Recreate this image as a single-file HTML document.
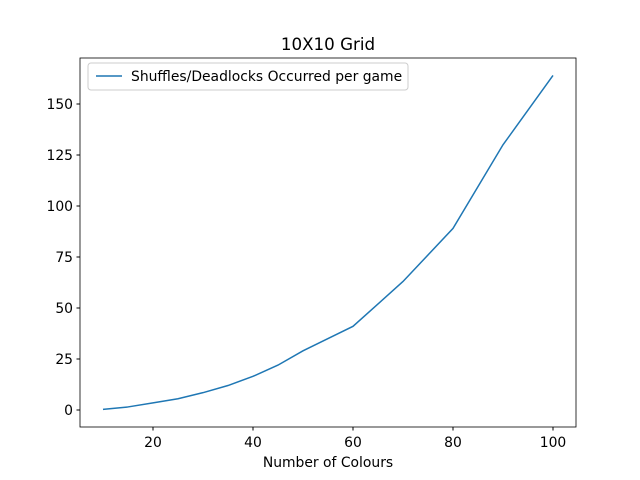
<!DOCTYPE html>
<html><head><meta charset="utf-8"><style>
body{margin:0;background:#fff}
svg{display:block;font-family:"DejaVu Sans","Liberation Sans",sans-serif}
</style></head><body>
<svg id="chart" width="640" height="480">
<rect width="640" height="480" fill="#fff"/>
<text x="328" y="50" font-size="16.7" text-anchor="middle">10X10 Grid</text>
<g id="plot"></g>
<rect x="80" y="58" width="496" height="369" fill="none" stroke="#000" stroke-width="0.8"/>
<text x="328" y="467" font-size="13.9" text-anchor="middle">Number of Colours</text>
<g>
<rect x="88" y="63" width="320" height="27" rx="3" fill="#fff" stroke="#ccc"/>
<line x1="96" y1="76" x2="122" y2="76" stroke="#1f77b4" stroke-width="1.5"/>
<text x="131" y="81" font-size="13.9">Shuffles/Deadlocks Occurred per game</text>
</g>
</svg>
<script>
const categories=[10,15,20,25,30,35,40,45,50,55,60,70,80,90,100];
const seriesValues=[0.3,1.5,3.5,5.5,8.5,12,16.5,22,29,35,41,63,89,130,164];
const xTicks=[20,40,60,80,100];
const yTicks=[0,25,50,75,100,125,150];
const xs=v=>103+(v-10)*5;
const ys=v=>410-v*2.04;
const g=document.getElementById('plot');
const NS='http://www.w3.org/2000/svg';
xTicks.forEach(t=>{
 const l=document.createElementNS(NS,'line');
 l.setAttribute('x1',xs(t));l.setAttribute('x2',xs(t));l.setAttribute('y1',427);l.setAttribute('y2',430.5);l.setAttribute('stroke','#000');
 
 
 g.appendChild(l);
 const tx=document.createElementNS(NS,'text');
 tx.setAttribute('x',xs(t));tx.setAttribute('y',447);tx.setAttribute('font-size','13.9');tx.setAttribute('text-anchor','middle');tx.textContent=t;
 
 
 g.appendChild(tx);
});
yTicks.forEach(t=>{
 const l=document.createElementNS(NS,'line');
 l.setAttribute('x1',76.5);l.setAttribute('x2',80);l.setAttribute('y1',ys(t));l.setAttribute('y2',ys(t));l.setAttribute('stroke','#000');
 
 
 g.appendChild(l);
 const tx=document.createElementNS(NS,'text');
 tx.setAttribute('x',73);tx.setAttribute('y',ys(t)+5);tx.setAttribute('font-size','13.9');tx.setAttribute('text-anchor','end');tx.textContent=t;
 
 
 g.appendChild(tx);
});
const p=document.createElementNS(NS,'polyline');
p.setAttribute('points',categories.map((c,i)=>xs(c)+','+ys(seriesValues[i])).join(' '));
p.setAttribute('fill','none');p.setAttribute('stroke','#1f77b4');p.setAttribute('stroke-width','1.5');


g.appendChild(p);
</script>
</body></html>
